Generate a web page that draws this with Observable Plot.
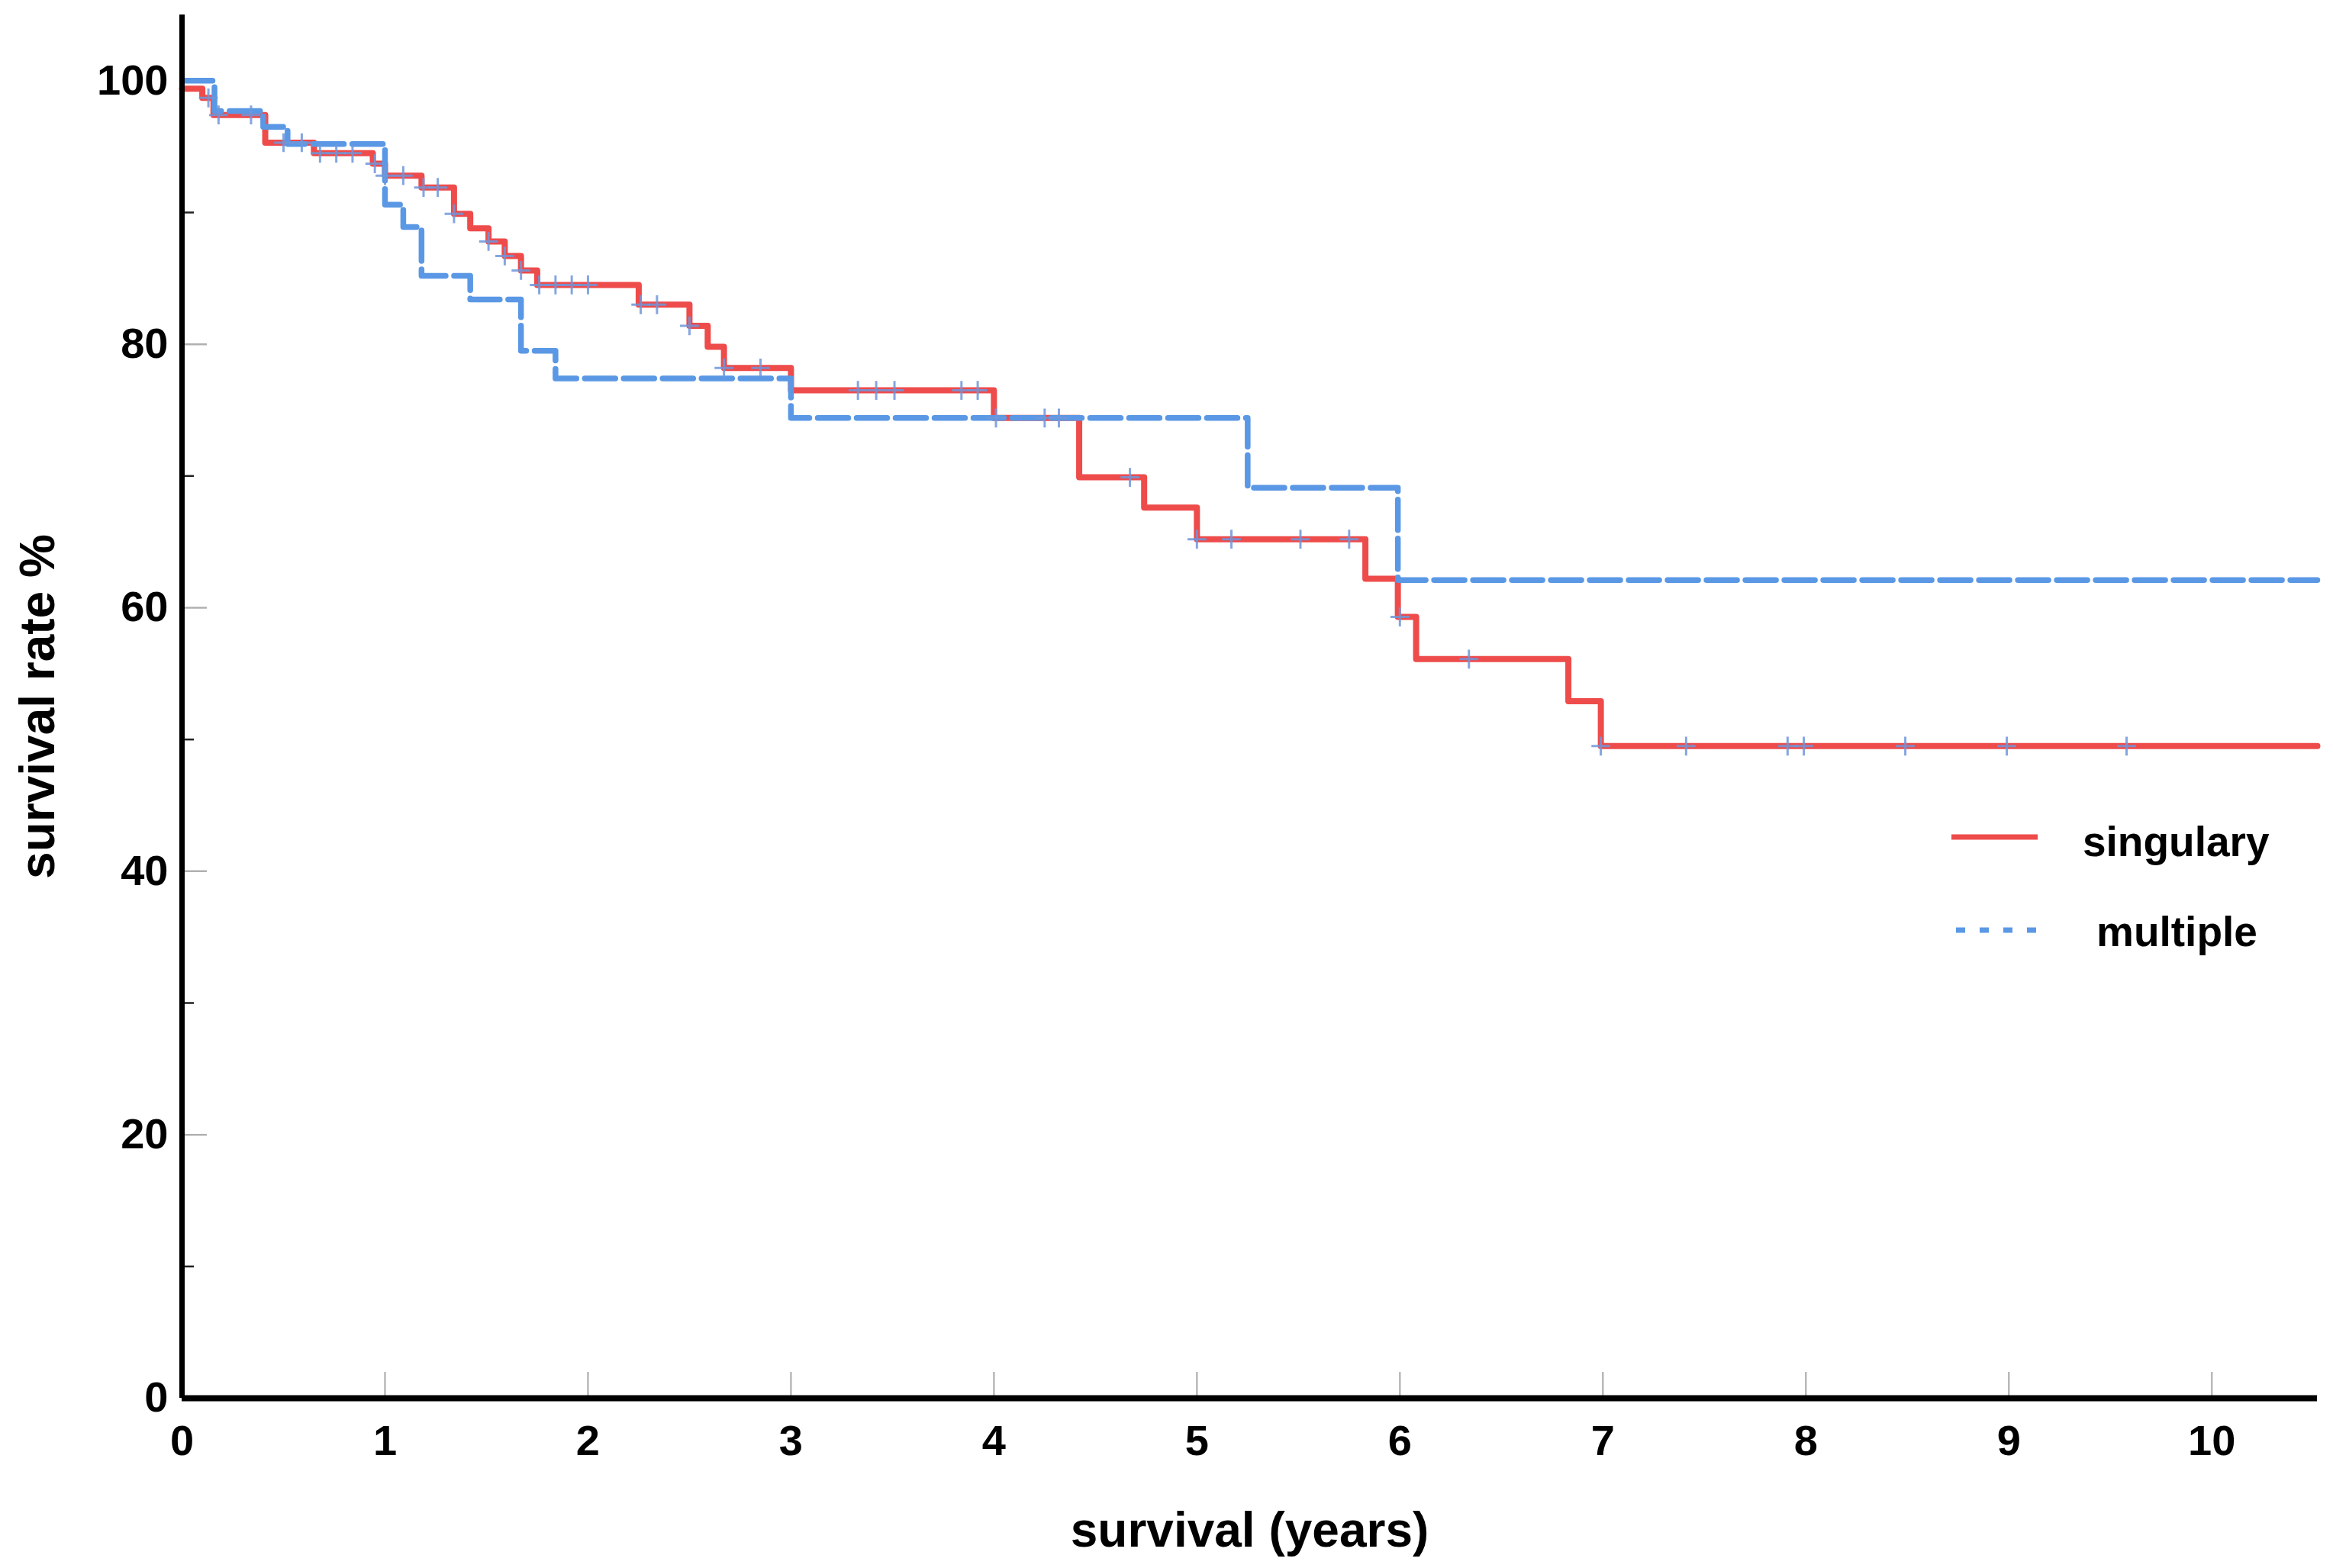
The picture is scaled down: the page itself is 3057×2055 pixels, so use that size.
<!DOCTYPE html>
<html><head><meta charset="utf-8">
<script src="https://cdn.jsdelivr.net/npm/d3@7"></script>
<script src="https://cdn.jsdelivr.net/npm/@observablehq/plot@0.6"></script>
<style>
html,body{margin:0;padding:0;background:#fff;}
#wrap{position:relative;width:3057px;height:2055px;}
#wrap svg{display:block;}
#legend{position:absolute;left:0;top:0;pointer-events:none;}
</style></head><body>
<div id="wrap"></div>
<script>
// ---- data ----
const endTime = 10.52;
const singularyTimes  = [0, 0.10, 0.155, 0.41, 0.65, 0.94, 1.00, 1.18, 1.34, 1.42, 1.51, 1.59, 1.67, 1.75, 2.25, 2.50, 2.59, 2.67, 3.00, 4.00, 4.42, 4.74, 5.00, 5.83, 5.99, 6.08, 6.83, 6.99];
const singularyValues = [99.4, 98.7, 97.4, 95.3, 94.5, 93.7, 92.8, 91.9, 89.9, 88.8, 87.8, 86.7, 85.6, 84.5, 83.0, 81.4, 79.8, 78.2, 76.5, 74.4, 69.9, 67.6, 65.2, 62.2, 59.3, 56.1, 52.9, 49.5];
const multipleTimes   = [0, 0.16, 0.40, 0.52, 1.00, 1.09, 1.18, 1.42, 1.67, 1.84, 3.00, 5.25, 5.99];
const multipleValues  = [100, 97.7, 96.5, 95.2, 90.6, 88.9, 85.2, 83.4, 79.5, 77.4, 74.4, 69.1, 62.1];
const singularyCensorTimes = [0.13, 0.18, 0.34, 0.50, 0.59, 0.68, 0.76, 0.84, 0.95, 1.00, 1.09, 1.19, 1.26, 1.34, 1.51, 1.59, 1.67, 1.76, 1.84, 1.92, 2.00, 2.26, 2.34, 2.50, 2.67, 2.85, 3.33, 3.42, 3.51, 3.84, 3.92, 4.01, 4.25, 4.32, 4.67, 5.00, 5.17, 5.51, 5.75, 6.00, 6.34, 6.99, 7.41, 7.91, 7.99, 8.49, 8.99, 9.58];
const xTicks = [0, 1, 2, 3, 4, 5, 6, 7, 8, 9, 10];
const yTicks = [0, 20, 40, 60, 80, 100];
const yMajorTicks = [20, 40, 60, 80, 100];
const yMinorTicks = [10, 30, 50, 70, 90];
const seriesNames = ["singulary", "multiple"];
const seriesColors = ["#ee4b4b", "#5a98e5"];

function stepPoints(times, values, group) {
  const pts = times.map((t, i) => ({t, s: values[i], group}));
  pts.push({t: endTime, s: values[values.length - 1], group});
  return pts;
}
function valueAt(times, values, t) {
  const i = d3.bisectRight(times, t) - 1;
  return values[Math.max(0, i)];
}
const singData = stepPoints(singularyTimes, singularyValues, seriesNames[0]);
const multData = stepPoints(multipleTimes, multipleValues, seriesNames[1]);
const censorData = singularyCensorTimes.map(t => ({t, s: valueAt(singularyTimes, singularyValues, t)}));

const FONT = "'Liberation Sans', Arial, Helvetica, sans-serif";
const intFmt = d3.format("d");

const chart = Plot.plot({
  width: 3057, height: 2055,
  marginLeft: 238, marginRight: 21, marginTop: 19, marginBottom: 223,
  style: {fontFamily: FONT, background: "#fff", color: "#000"},
  x: {domain: [0, endTime]},
  y: {domain: [0, 105]},
  marks: [
    Plot.axisX(xTicks.slice(1), {tickSize: 34, dy: -34, stroke: "#b8b8b8", strokeWidth: 2.5, tickFormat: () => "", label: null}),
    Plot.axisY(yMajorTicks, {tickSize: 33, dx: 33, stroke: "#b0b0b0", strokeWidth: 2.5, tickFormat: () => "", label: null}),
    Plot.axisY(yMinorTicks, {tickSize: 16, dx: 16, stroke: "#222", strokeWidth: 2.5, tickFormat: () => "", label: null}),
    Plot.axisX(xTicks, {tickSize: 0, tickPadding: 35, fontSize: 56, fontWeight: "bold", tickFormat: intFmt, label: null}),
    Plot.axisY(yTicks, {tickSize: 0, tickPadding: 18, fontSize: 56, fontWeight: "bold", tickFormat: intFmt, label: null}),
    Plot.line(singData, {x: "t", y: "s", curve: "step-after", stroke: seriesColors[0], strokeWidth: 8}),
    Plot.line(multData, {x: "t", y: "s", curve: "step-after", stroke: seriesColors[1], strokeWidth: 7.5, strokeDasharray: "40,11"}),
    Plot.dot(censorData, {x: "t", y: "s", symbol: "plus", r: 8, stroke: "#6f97dc", strokeWidth: 3, strokeOpacity: 0.85}),
    Plot.ruleX([0], {stroke: "#000", strokeWidth: 7}),
    Plot.ruleY([0], {stroke: "#000", strokeWidth: 8}),
    Plot.text(["survival (years)"], {text: d => d, frameAnchor: "bottom", lineAnchor: "middle", dy: 174, fontSize: 64, fontWeight: "bold"}),
    Plot.text(["survival rate %"], {text: d => d, frameAnchor: "left", rotate: -90, lineAnchor: "middle", textAnchor: "middle", dx: -188, fontSize: 64, fontWeight: "bold"})
  ]
});
const wrap = document.getElementById("wrap");
wrap.appendChild(chart);

// legend overlay (inside plot area, right side)
const leg = d3.select(wrap).append("svg").attr("id", "legend").attr("width", 3057).attr("height", 2055);
const legendLayout = [
  {x1: 2557, x2: 2670, y: 1097, tx: 2729, ty: 1122, dash: null},
  {x1: 2563, x2: 2670, y: 1219, tx: 2747, ty: 1240, dash: "12,19"}
];
seriesNames.forEach((name, i) => {
  const L = legendLayout[i];
  leg.append("line").attr("x1", L.x1).attr("x2", L.x2).attr("y1", L.y).attr("y2", L.y)
    .attr("stroke", seriesColors[i]).attr("stroke-width", 7).attr("stroke-dasharray", L.dash);
  leg.append("text").attr("x", L.tx).attr("y", L.ty).attr("font-family", FONT)
    .attr("font-size", 55).attr("font-weight", "bold").attr("fill", "#000").text(name);
});
</script>
</body></html>
